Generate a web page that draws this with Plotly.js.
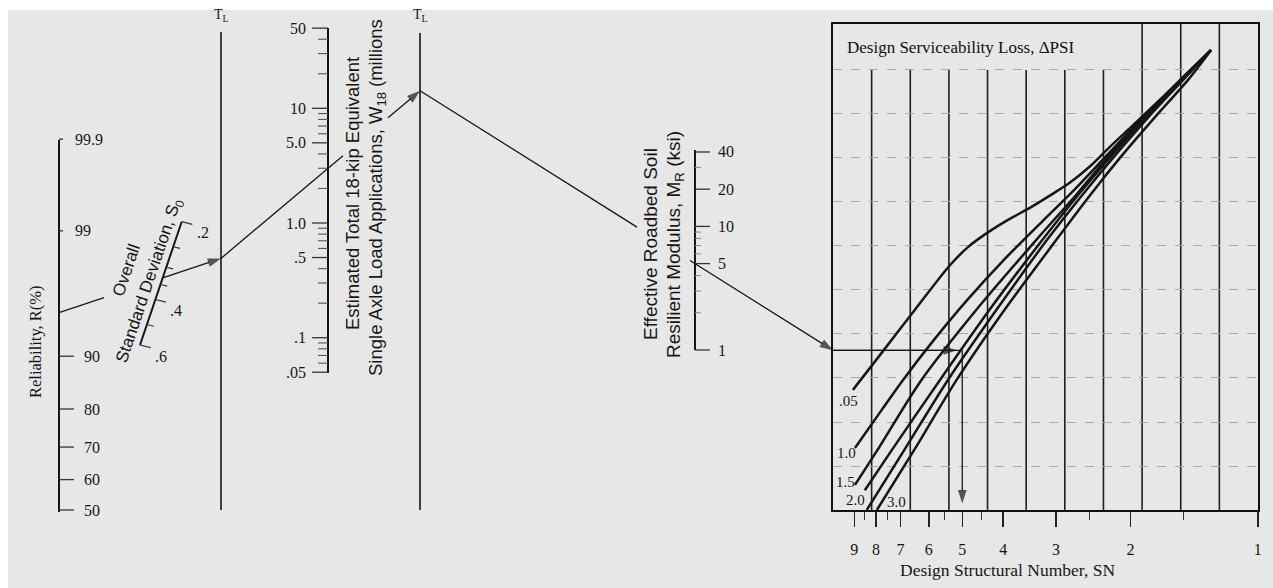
<!DOCTYPE html>
<html><head><meta charset="utf-8">
<script src="https://cdn.plot.ly/plotly-3.0.1.min.js"></script>
<style>html,body{margin:0;padding:0;background:#fff;}#chart{width:1273px;height:588px;}</style>
</head><body><div id="chart"></div>
<script>
// ================= DATA =================
const reliabilityTicks  = [50, 60, 70, 80, 90, 99, 99.9];
const reliabilityLabels = ['50', '60', '70', '80', '90', '99', '99.9'];
const sdTicks  = [0.2, 0.25, 0.3, 0.35, 0.4, 0.5, 0.6];
const sdLabels = ['.2', '', '', '', '.4', '', '.6'];
const w18Major  = [0.05, 0.1, 0.5, 1, 5, 10, 50];
const w18Labels = ['.05', '.1', '.5', '1.0', '5.0', '10', '50'];
const w18Minor  = [0.06, 0.07, 0.08, 0.09, 0.2, 0.3, 0.4, 0.6, 0.7, 0.8, 0.9, 2, 3, 4, 6, 7, 8, 9, 20, 30, 40];
const mrMajor  = [1, 5, 10, 20, 40];
const mrLabels = ['1', '5', '10', '20', '40'];
const mrMinor  = [2, 3, 4, 6, 7, 8, 9, 30];
const snMajor  = [1, 2, 3, 4, 5, 6, 7, 8, 9];
const snLabels = ['1', '2', '3', '4', '5', '6', '7', '8', '9'];
const snMinor  = [1.5, 2.5, 4.5, 5.5, 7.5, 8.5];
const psiLabels = ['.05', '1.0', '1.5', '2.0', '3.0'];

const psi05_SN = [9.07, 7.83, 6.47, 5.36, 4.84, 4.33, 3.87, 3.47, 3.11, 2.79, 2.50, 2.25, 2.015, 1.807, 1.519, 1.29];
const psi05_Y  = [2.73, 3.52, 4.55, 5.55, 5.98, 6.32, 6.61, 6.86, 7.14, 7.43, 7.80, 8.23, 8.66, 9.09, 9.77, 10.45];
const psi10_SN = [8.97, 7.76, 6.91, 5.84, 4.87, 3.99, 3.21, 2.72, 2.27, 1.867, 1.528, 1.29];
const psi10_Y  = [1.41, 2.27, 2.95, 3.86, 4.77, 5.68, 6.59, 7.27, 8.07, 8.93, 9.77, 10.45];
const psi15_SN = [8.97, 7.94, 6.25, 4.63, 3.34, 2.69, 2.24, 1.847, 1.519, 1.29];
const psi15_Y  = [0.57, 1.36, 2.95, 4.55, 6.14, 7.16, 8.07, 8.93, 9.77, 10.45];
const psi20_SN = [8.50, 7.34, 5.65, 4.31, 3.23, 2.66, 2.21, 1.839, 1.519, 1.29];
const psi20_Y  = [0.45, 1.36, 2.95, 4.55, 6.14, 7.16, 8.07, 8.93, 9.77, 10.45];
const psi25_SN = [8.41, 6.86, 5.41, 4.15, 3.15, 2.60, 2.17, 1.813, 1.503, 1.29];
const psi25_Y  = [0, 1.36, 2.95, 4.55, 6.14, 7.16, 8.07, 8.93, 9.77, 10.45];
const psi30_SN = [7.96, 6.50, 5.16, 3.97, 2.995, 2.49, 2.09, 1.75, 1.463, 1.29];
const psi30_Y  = [0, 1.36, 2.95, 4.55, 6.14, 7.16, 8.07, 8.93, 9.77, 10.45];

// worked example drawn on the nomograph
const exR = 95, exS0 = 0.33, exW18 = 3, exMR = 5, exSN = 5.0;

// ================= GEOMETRY (layout of the nomograph, canvas pixels) =================
const W = 1273, H = 588;
const G = {
  rX: 59, rBase: 510, rPerZ: 120, rTop: 140, rBot: 512,
  sdTop: [181.7, 221.7], sdBot: [140, 345],
  tl1X: 221, tl2X: 420, tlTop: 32, tlBot: 510,
  wX: 328, wOne: 223, wPerDec: 114.7, wTop: 28, wBot: 373,
  mX: 695, mOne: 350, mPerDec: 123.6, mTop: 150, mBot: 350,
  fL: 833, fR: 1258, fT: 24, fB: 510, yMax: 11.045,
  snLeftLog: 1.00472, snRightLog: -0.0006
};
const SERIF = 'Liberation Serif, Times New Roman, serif';
const SANS = 'Liberation Sans, Arial, sans-serif';
const INK = '#161616';

function invNorm(p){
  const a=[-3.969683028665376e+01,2.209460984245205e+02,-2.759285104469687e+02,1.383577518672690e+02,-3.066479806614716e+01,2.506628277459239e+00];
  const b=[-5.447609879822406e+01,1.615858368580409e+02,-1.556989798598866e+02,6.680131188771972e+01,-1.328068155288572e+01];
  const c=[-7.784894002430293e-03,-3.223964580411365e-01,-2.400758277161838e+00,-2.549732539343734e+00,4.374664141464968e+00,2.938163982698783e+00];
  const d=[7.784695709041462e-03,3.224671290700398e-01,2.445134137142996e+00,3.754408661907416e+00];
  const pl=0.02425; let q,r;
  if(p<pl){q=Math.sqrt(-2*Math.log(p));return (((((c[0]*q+c[1])*q+c[2])*q+c[3])*q+c[4])*q+c[5])/((((d[0]*q+d[1])*q+d[2])*q+d[3])*q+1);}
  if(p<=1-pl){q=p-0.5;r=q*q;return (((((a[0]*r+a[1])*r+a[2])*r+a[3])*r+a[4])*r+a[5])*q/(((((b[0]*r+b[1])*r+b[2])*r+b[3])*r+b[4])*r+1);}
  q=Math.sqrt(-2*Math.log(1-p));return -(((((c[0]*q+c[1])*q+c[2])*q+c[3])*q+c[4])*q+c[5])/((((d[0]*q+d[1])*q+d[2])*q+d[3])*q+1);
}
const yR = R => G.rBase - G.rPerZ * invNorm(R / 100);
const sdPt = s => { const t = (Math.log(s) - Math.log(0.2)) / (Math.log(0.6) - Math.log(0.2));
  return [G.sdTop[0] + (G.sdBot[0] - G.sdTop[0]) * t, G.sdTop[1] + (G.sdBot[1] - G.sdTop[1]) * t]; };
const yW = w => G.wOne - G.wPerDec * Math.log10(w);
const yM = m => G.mOne - G.mPerDec * Math.log10(m);
const lineAt = (p, q, x) => p[1] + (q[1] - p[1]) * (x - p[0]) / (q[0] - p[0]);
const pxToY2 = py => (G.fB - py) / (G.fB - G.fT) * G.yMax;

function segs(list){ const x=[], y=[]; list.forEach(s=>{x.push(s[0],s[2],null); y.push(s[1],s[3],null);}); return {x,y}; }
function canvasLine(list, width, color){ const s = segs(list);
  return {type:'scatter', mode:'lines', x:s.x, y:s.y, xaxis:'x', yaxis:'y', hoverinfo:'skip', showlegend:false, cliponaxis:false,
          line:{color:color||INK, width:width||1.5}}; }
function arrowTrace(from, to, xa, ya){
  return {type:'scatter', mode:'lines+markers', x:[from[0], to[0]], y:[from[1], to[1]], xaxis:xa||'x', yaxis:ya||'y',
    hoverinfo:'skip', showlegend:false, cliponaxis:false, line:{color:INK, width:1.3},
    marker:{symbol:'arrow', angleref:'previous', size:[0, 14], color:INK, line:{width:0}}};
}

// ================= SCALES =================
const traces = [];
traces.push(canvasLine([[G.rX, G.rTop, G.rX, G.rBot]], 2));
traces.push(canvasLine(reliabilityTicks.map(R => [G.rX, yR(R), G.rX + (R >= 99 ? 4 : 15), yR(R)]), 1.3, '#333'));
traces.push(canvasLine([[G.sdTop[0], G.sdTop[1], G.sdBot[0], G.sdBot[1]]], 2));
traces.push(canvasLine(sdTicks.map((s, i) => { const p = sdPt(s), L = sdLabels[i] ? 11 : 7;
  return [p[0], p[1], p[0] + 0.97 * L, p[1] + 0.24 * L]; }), 1.2, '#333'));
traces.push(canvasLine([[G.tl1X, G.tlTop, G.tl1X, G.tlBot], [G.tl2X, G.tlTop + 1, G.tl2X, G.tlBot]], 1.6));
traces.push(canvasLine([[G.wX, G.wTop, G.wX, G.wBot]], 2));
traces.push(canvasLine(w18Major.map(w => [G.wX, yW(w), G.wX - 16, yW(w)]), 1.3, '#333'));
traces.push(canvasLine(w18Minor.map(w => [G.wX, yW(w), G.wX - 10, yW(w)]), 1.1, '#555'));
traces.push(canvasLine([[G.mX, G.mTop, G.mX, G.mBot]], 2));
traces.push(canvasLine(mrMajor.map(m => [G.mX, yM(m), G.mX + 15, yM(m)]), 1.3, '#333'));
traces.push(canvasLine(mrMinor.map(m => [G.mX, yM(m), G.mX + 6, yM(m)]), 1, '#888'));

// ================= WORKED EXAMPLE PATH =================
const pR = [G.rX, yR(exR)];
const pS = sdPt(exS0);
const tl1 = [G.tl1X, lineAt(pR, pS, G.tl1X)];
const pW = [G.wX, yW(exW18)];
const tl2 = [G.tl2X, lineAt(tl1, pW, G.tl2X)];
const pM = [G.mX, yM(exMR)];
const pC = [G.fL, lineAt(tl2, pM, G.fL)];
const yC = pxToY2(pC[1]);
traces.push(canvasLine([
  [pR[0], pR[1], 104, lineAt(pR, pS, 104)],
  [tl1[0], tl1[1], 343, lineAt(tl1, pW, 343)],
  [tl2[0], tl2[1], 637, lineAt(tl2, pM, 637)]
], 1.3));
traces.push(arrowTrace(pS, tl1));
traces.push(arrowTrace([388, lineAt(tl1, pW, 388)], tl2));
traces.push(arrowTrace([690, lineAt(tl2, pM, 690)], pC));

// ================= RIGHT CHART =================
const curveSets = [[psi05_SN, psi05_Y], [psi10_SN, psi10_Y], [psi15_SN, psi15_Y], [psi20_SN, psi20_Y], [psi25_SN, psi25_Y], [psi30_SN, psi30_Y]];
curveSets.forEach(c => traces.push({type:'scatter', mode:'lines', x:c[0], y:c[1], xaxis:'x2', yaxis:'y2',
  line:{color:INK, width:2.5, shape:'spline', smoothing:0.8}, hoverinfo:'skip', showlegend:false}));
const leftSN = Math.pow(10, G.snLeftLog);
traces.push({type:'scatter', mode:'lines', x:[leftSN, exSN], y:[yC, yC], xaxis:'x2', yaxis:'y2',
  line:{color:INK, width:1.4}, hoverinfo:'skip', showlegend:false});
traces.push(arrowTrace([leftSN, yC], [5.15, yC], 'x2', 'y2'));
traces.push(arrowTrace([exSN, yC], [exSN, 0.15], 'x2', 'y2'));

// ================= TEXT =================
const ann = [];
function txt(x, y, text, o){ ann.push(Object.assign({x, y, xref:'x', yref:'y', text, showarrow:false,
  font:{family:SERIF, size:16, color:INK}, xanchor:'center', yanchor:'middle'}, o||{})); }

reliabilityTicks.forEach((R, i) => txt(G.rX + (R >= 99 ? 14 : 23), yR(R), reliabilityLabels[i], {xanchor:'left'}));
sdTicks.forEach((s, i) => { if (sdLabels[i]) { const p = sdPt(s); txt(p[0] + 21, p[1] + 11, sdLabels[i]); } });
w18Major.forEach((w, i) => txt(G.wX - 20, yW(w), w18Labels[i], {xanchor:'right'}));
mrMajor.forEach((m, i) => txt(G.mX + 21, yM(m), mrLabels[i], {xanchor:'left'}));

txt(35, 342, 'Reliability, R(%)', {textangle:-90, font:{family:SERIF, size:16.5, color:INK}});
txt(126, 270, 'Overall', {textangle:-71.3, font:{family:SANS, size:17, color:INK}});
txt(150, 281, 'Standard Deviation, S<sub>0</sub>', {textangle:-71.3, font:{family:SANS, size:17, color:INK}});
txt(G.tl1X, 15, 'T<sub>L</sub>', {font:{family:SERIF, size:14, color:INK}});
txt(G.tl2X, 15, 'T<sub>L</sub>', {font:{family:SERIF, size:14, color:INK}});
txt(352, 194, 'Estimated Total 18-kip Equivalent', {textangle:-90, font:{family:SANS, size:18.5, color:INK}});
txt(377, 198, 'Single Axle Load Applications, W<sub>18</sub> (millions', {textangle:-90, font:{family:SANS, size:18.5, color:INK}});
txt(650, 244, 'Effective Roadbed Soil', {textangle:-90, font:{family:SANS, size:19, color:INK}});
txt(675, 245, 'Resilient Modulus, M<sub>R</sub> (ksi)', {textangle:-90, font:{family:SANS, size:19, color:INK}});
txt(845, 47, 'Design Serviceability Loss, ΔPSI', {xanchor:'left', font:{family:SERIF, size:17, color:'#111'}});
txt(1007, 570, 'Design Structural Number, SN', {font:{family:SERIF, size:17.5, color:INK}});
const psiLabelPos = [[848, 401], [846, 453], [845, 482], [855, 500], [896, 502]];
psiLabels.forEach((t, i) => txt(psiLabelPos[i][0], psiLabelPos[i][1], t, {font:{family:SERIF, size:15, color:INK}}));

// ================= SHAPES =================
const shapes = [{type:'rect', xref:'paper', yref:'paper', x0:8/W, x1:1, y0:0, y1:(H-10)/H, fillcolor:'#e7e7e7', line:{width:0}, layer:'below'}];
for (let k = 1; k <= 10; k++) {
  shapes.push({type:'line', xref:'x2 domain', yref:'y2', x0:k/11, x1:k/11, y0:0, y1:(k >= 8 ? G.yMax : 10),
    line:{color:'#1e1e1e', width:1.6}, layer:'below'});
}

const layout = {
  width:W, height:H, margin:{l:0, r:0, t:0, b:0}, autosize:false,
  paper_bgcolor:'#ffffff', plot_bgcolor:'rgba(0,0,0,0)', showlegend:false,
  xaxis:{domain:[0,1], range:[0,W], visible:false, fixedrange:true, anchor:'y'},
  yaxis:{domain:[0,1], range:[H,0], visible:false, fixedrange:true, anchor:'x'},
  xaxis2:{type:'log', domain:[G.fL/W, G.fR/W], range:[G.snLeftLog, G.snRightLog], anchor:'y2',
    showline:true, mirror:true, linewidth:2, linecolor:'#111', showgrid:false, zeroline:false,
    ticks:'outside', tickmode:'array', tickvals:snMajor, ticktext:snLabels, ticklen:15, tickwidth:1.5, tickcolor:'#222',
    minor:{tickmode:'array', tickvals:snMinor, ticks:'outside', ticklen:8, tickwidth:1.2, tickcolor:'#333', showgrid:false},
    tickfont:{family:SERIF, size:16, color:INK}, ticklabelstandoff:9, fixedrange:true},
  yaxis2:{domain:[(H-G.fB)/H, (H-G.fT)/H], range:[0, G.yMax], anchor:'x2',
    showline:true, mirror:true, linewidth:2, linecolor:'#111', zeroline:false,
    tickmode:'array', tickvals:[1,2,3,4,5,6,7,8,9,10], showticklabels:false, ticks:'',
    showgrid:true, gridcolor:'#a9a9a9', gridwidth:1, griddash:'dash', fixedrange:true},
  annotations:ann, shapes:shapes
};
Plotly.newPlot('chart', traces, layout, {displayModeBar:false, staticPlot:true});
</script></body></html>
